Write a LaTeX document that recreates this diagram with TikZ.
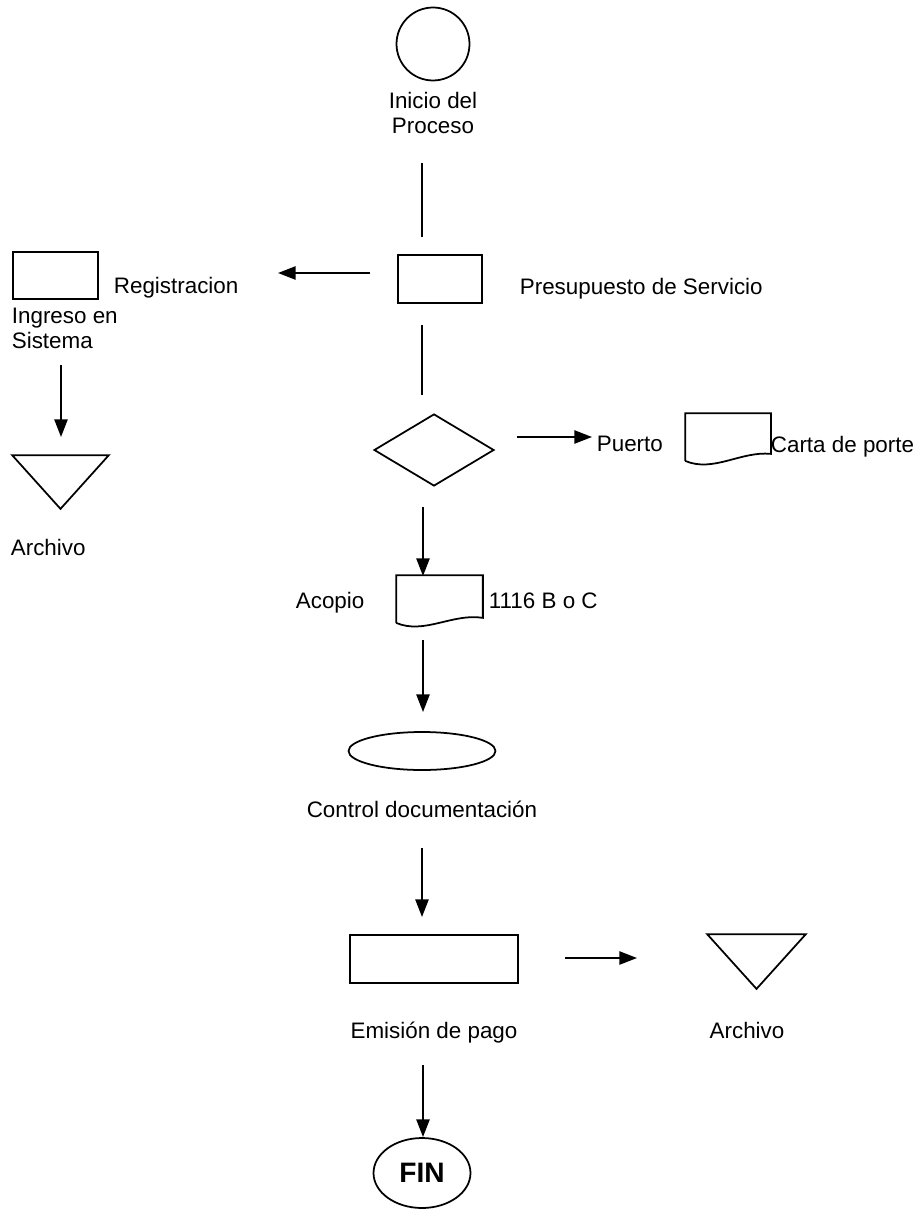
\documentclass[tikz,border=0pt]{standalone}
\usepackage{fontspec}
\setmainfont{Liberation Sans}
\usetikzlibrary{shapes.geometric, arrows.meta, calc}

\begin{document}
\begin{tikzpicture}[x=0.02cm, y=-0.02cm, line width=1pt,
  font=\fontsize{12.75}{14.17}\selectfont,
  flow/.style={-{Triangle[length=10pt, width=7.5pt]}},
  box/.style={draw, rectangle, inner sep=0pt},
  hold/.style={rectangle, inner sep=0pt},
  lbl/.style={inner sep=0pt}]
\useasboundingbox (0,0) rectangle (923,1213);

% Start
\node[draw, circle, minimum size=1.46cm, inner sep=0pt] (inicio) at (433,44) {};
\node[lbl, align=center, anchor=north] (inicioTxt) at (433,91) {Inicio del\\Proceso};
\coordinate (l1a) at (422,163);
\coordinate (l1b) at (422,237);
\draw (l1a) -- (l1b);

% Presupuesto
\node[box, minimum width=1.68cm, minimum height=0.96cm] (pres) at (440,279) {};
\node[lbl, anchor=base west] (presTxt) at (519,294) {Presupuesto de Servicio};
\coordinate (a1a) at (370,273);
\coordinate (a1b) at (278,273);
\draw[flow] (a1a) -- (a1b);

% Registracion
\node[box, minimum width=1.7cm, minimum height=0.94cm] (reg) at (55.5,275.5) {};
\node[lbl, anchor=base west] (regTxt) at (113,293) {Registracion};
\node[lbl, align=left, anchor=north west] (ingreso) at (11,307) {Ingreso en\\Sistema};
\coordinate (a2a) at (61,365);
\coordinate (a2b) at (61,437);
\draw[flow] (a2a) -- (a2b);

% Archivo (left)
\node[hold, minimum width=1.9cm, minimum height=1.04cm] (arch1) at (60.5,482) {};
\draw (arch1.north west) -- (arch1.north east) -- (arch1.south) -- cycle;
\node[lbl, anchor=base west] (arch1Txt) at (10,555) {Archivo};

% Decision
\coordinate (l2a) at (422,325);
\coordinate (l2b) at (422,395);
\draw (l2a) -- (l2b);
\node[draw, diamond, minimum width=2.4cm, minimum height=1.44cm, inner sep=0pt] (dec) at (434,450) {};
\coordinate (a3a) at (517,437);
\coordinate (a3b) at (592,437);
\draw[flow] (a3a) -- (a3b);
\node[lbl, anchor=base west] (puerto) at (596,451) {Puerto};

% Carta de porte
\node[hold, minimum width=1.68cm, minimum height=0.92cm] (carta) at (728,437) {};
\draw (carta.south west) -- (carta.north west) -- (carta.north east) -- ($(carta.south east)+(0,-7)$)
  .. controls ($(carta.south east)+(-30,-10)$) and ($(carta.south west)+(28,12)$) .. (carta.south west);
\node[lbl, anchor=base west] (cartaTxt) at (770,452) {Carta de porte};

% Acopio
\coordinate (a4a) at (423,507);
\coordinate (a4b) at (423,576);
\draw[flow] (a4a) -- (a4b);
\node[hold, minimum width=1.7cm, minimum height=0.92cm] (acopio) at (439.5,599) {};
\draw (acopio.south west) -- (acopio.north west) -- (acopio.north east) -- ($(acopio.south east)+(0,-5)$)
  .. controls ($(acopio.south east)+(-30,-10)$) and ($(acopio.south west)+(28,12)$) .. (acopio.south west);
\node[lbl, anchor=base west] (acopioTxt) at (295,608) {Acopio};
\node[lbl, anchor=base west] (codTxt) at (488,608) {1116 B o C};

% Control
\coordinate (a5a) at (423,640);
\coordinate (a5b) at (423,712);
\draw[flow] (a5a) -- (a5b);
\node[draw, ellipse, minimum width=2.94cm, minimum height=0.76cm, inner sep=0pt] (control) at (422,751) {};
\node[lbl, anchor=base] (controlTxt) at (422,817) {Control documentación};

% Emision
\coordinate (a6a) at (422,848);
\coordinate (a6b) at (422,917);
\draw[flow] (a6a) -- (a6b);
\node[box, minimum width=3.36cm, minimum height=0.96cm] (emision) at (434,959) {};
\node[lbl, anchor=base] (emisionTxt) at (434,1038) {Emisión de pago};
\coordinate (a7a) at (565,958);
\coordinate (a7b) at (637,958);
\draw[flow] (a7a) -- (a7b);

% Archivo (right)
\node[hold, minimum width=1.94cm, minimum height=1.06cm] (arch2) at (756.5,961.5) {};
\draw (arch2.north west) -- (arch2.north east) -- (arch2.south) -- cycle;
\node[lbl, anchor=base] (arch2Txt) at (747,1038) {Archivo};

% End
\coordinate (a8a) at (423,1065);
\coordinate (a8b) at (423,1137);
\draw[flow] (a8a) -- (a8b);
\node[draw, ellipse, minimum width=1.94cm, minimum height=1.4cm, inner sep=0pt,
  font=\fontsize{16}{19}\selectfont\bfseries] (fin) at (422,1173) {FIN};
\end{tikzpicture}
\end{document}
